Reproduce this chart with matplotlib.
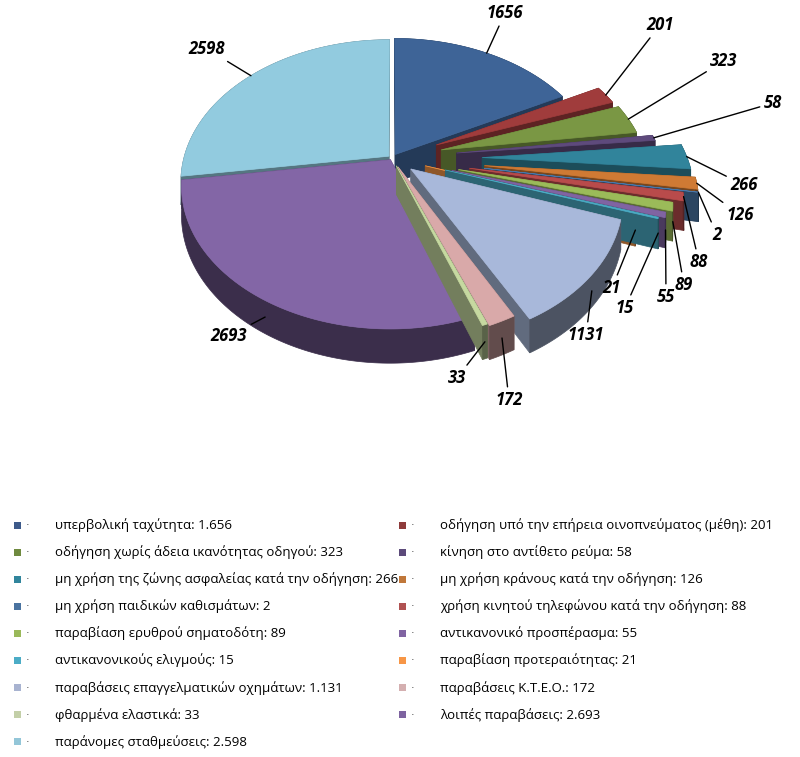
import numpy as np
import matplotlib
matplotlib.use("Agg")
import matplotlib.pyplot as plt
from matplotlib.patches import Polygon, Rectangle
from matplotlib.colors import to_rgb

categories = [
    "υπερβολική ταχύτητα",
    "οδήγηση υπό την επήρεια οινοπνεύματος (μέθη)",
    "οδήγηση χωρίς άδεια ικανότητας οδηγού",
    "κίνηση στο αντίθετο ρεύμα",
    "μη χρήση της ζώνης ασφαλείας κατά την οδήγηση",
    "μη χρήση κράνους κατά την οδήγηση",
    "μη χρήση παιδικών καθισμάτων",
    "χρήση κινητού τηλεφώνου κατά την οδήγηση",
    "παραβίαση ερυθρού σηματοδότη",
    "αντικανονικό προσπέρασμα",
    "αντικανονικούς ελιγμούς",
    "παραβίαση προτεραιότητας",
    "παραβάσεις επαγγελματικών οχημάτων",
    "παραβάσεις Κ.Τ.Ε.Ο.",
    "φθαρμένα ελαστικά",
    "λοιπές παραβάσεις",
    "παράνομες σταθμεύσεις",
]
values = [1656, 201, 323, 58, 266, 126, 2, 88, 89, 55, 15, 21, 1131, 172, 33, 2693, 2598]

colors = ["#3E6497", "#A03C3C", "#7A9744", "#5E4A7C", "#31849B", "#CF7A34",
          "#4A77A8", "#B84B4B", "#9BBB59", "#8064A2", "#4BACC6", "#F79646",
          "#A8B8DA", "#D9A9A9", "#C6D9A0", "#8366A6", "#92CBDF"]
legend_colors = ["#3D5A8A", "#8E3B3B", "#6F8A3F", "#5C4A7A", "#31859C", "#C0773A",
                 "#4A73A0", "#B05252", "#9AB95A", "#8064A2", "#4BACC6", "#F79646",
                 "#A8B3D0", "#D4AFB0", "#C3CFA8", "#7E63A0", "#93C6D8"]
explode = [0.03, 0.24, 0.25, 0.32, 0.44, 0.45, 0.45, 0.38, 0.33, 0.30, 0.27, 0.17,
           0.12, 0.07, 0.06, 0.015, 0.02]

# label text centres (pixel layout)
label_pos = [(505, 13), (660, 25), (724, 61), (773, 103), (744, 185), (740, 215),
             (717, 235), (699, 262), (684, 285), (666, 297), (625, 308), (612, 288),
             (586, 335), (509, 400), (457, 378), (229, 336), (207, 49)]

W, Hpx = 800, 757
fig = plt.figure(figsize=(W / 100, Hpx / 100), dpi=100)
ax = fig.add_axes([0, 0, 1, 1])
ax.set_xlim(0, W)
ax.set_ylim(Hpx, 0)
ax.axis("off")

CX, CY, A, B, K, DEPTH = 392.0, 158.0, 205.0, 138.0, 0.18, 28.0


def proj(u, v, h):
    u = np.asarray(u, float)
    v = np.asarray(v, float)
    s = 1.0 / (1.0 + K * v)
    return np.column_stack([CX + A * u * s, CY - B * v * s + DEPTH * h * s])


def shade(c, f):
    r, g, b = to_rgb(c)
    return (r * f, g * f, b * f)


total = float(sum(values))
fracs = np.array(values) / total
ends = 90 - 360 * np.cumsum(fracs)
starts = ends + 360 * fracs

slices = []
for i in range(len(values)):
    t1, t2 = starts[i], ends[i]
    mid = np.deg2rad((t1 + t2) / 2)
    ox, oy = explode[i] * np.cos(mid), explode[i] * np.sin(mid)
    n = max(4, int(abs(t1 - t2) * 2))
    th = np.deg2rad(np.linspace(t1, t2, n))
    au, av = ox + np.cos(th), oy + np.sin(th)
    key = oy + 0.5 * np.sin(mid)
    slices.append((key, i, ox, oy, au, av, mid))

slices.sort(key=lambda s: -s[0])
z = 2
for key, i, ox, oy, au, av, mid in slices:
    c = colors[i]
    faces = []
    top = proj(au, av, 0)
    bot = proj(au, av, 1)
    faces.append((np.mean(av), np.vstack([top, bot[::-1]]), shade(c, 0.45)))
    for j in (0, -1):
        pts = np.vstack([proj([ox], [oy], 0), proj([au[j]], [av[j]], 0),
                         proj([au[j]], [av[j]], 1), proj([ox], [oy], 1)])
        faces.append(((oy + av[j]) / 2, pts, shade(c, 0.58)))
    faces.sort(key=lambda f: -f[0])
    for _, pts, fc in faces:
        ax.add_patch(Polygon(pts, closed=True, facecolor=fc, edgecolor=fc,
                             linewidth=0.5, zorder=z))
        z += 1
    toppts = np.vstack([proj([ox], [oy], 0), top])
    ax.add_patch(Polygon(toppts, closed=True, facecolor=c, edgecolor=c,
                         linewidth=0.5, zorder=z))
    z += 1

# data labels
for i in range(len(values)):
    t1, t2 = starts[i], ends[i]
    mid = np.deg2rad((t1 + t2) / 2)
    ox, oy = explode[i] * np.cos(mid), explode[i] * np.sin(mid)
    h = 0.5 if np.sin(mid) < -0.2 else 0.0
    anchor = proj([ox + np.cos(mid)], [oy + np.sin(mid)], h)[0]
    ax.annotate(str(values[i]), xy=anchor, xytext=label_pos[i], textcoords="data",
                ha="center", va="center", fontsize=12, fontweight="bold",
                fontstyle="italic", family=["Open Sans", "DejaVu Sans"],
                color="black", zorder=200,
                arrowprops=dict(arrowstyle="-", color="black", lw=1.0,
                                shrinkA=1, shrinkB=0))

# legend (row-major, two columns)
for i in range(len(values)):
    row, col = i // 2, i % 2
    xs = [17, 402][col]
    y = 525 + 27.1 * row
    ax.add_patch(Rectangle((xs - 3.5, y - 3.5), 7, 7, facecolor=legend_colors[i],
                           edgecolor="none", zorder=5))
    ax.text(xs + 11, y, "·", ha="center", va="center", fontsize=8, color="#444444")
    lab = f"{categories[i]}: {values[i]:,}".replace(",", ".")
    ax.text(xs + 38, y, lab, ha="left", va="center", fontsize=9.5,
            family=["Open Sans", "DejaVu Sans"], color="black")

fig.savefig("out.png", dpi=100, facecolor="white")
